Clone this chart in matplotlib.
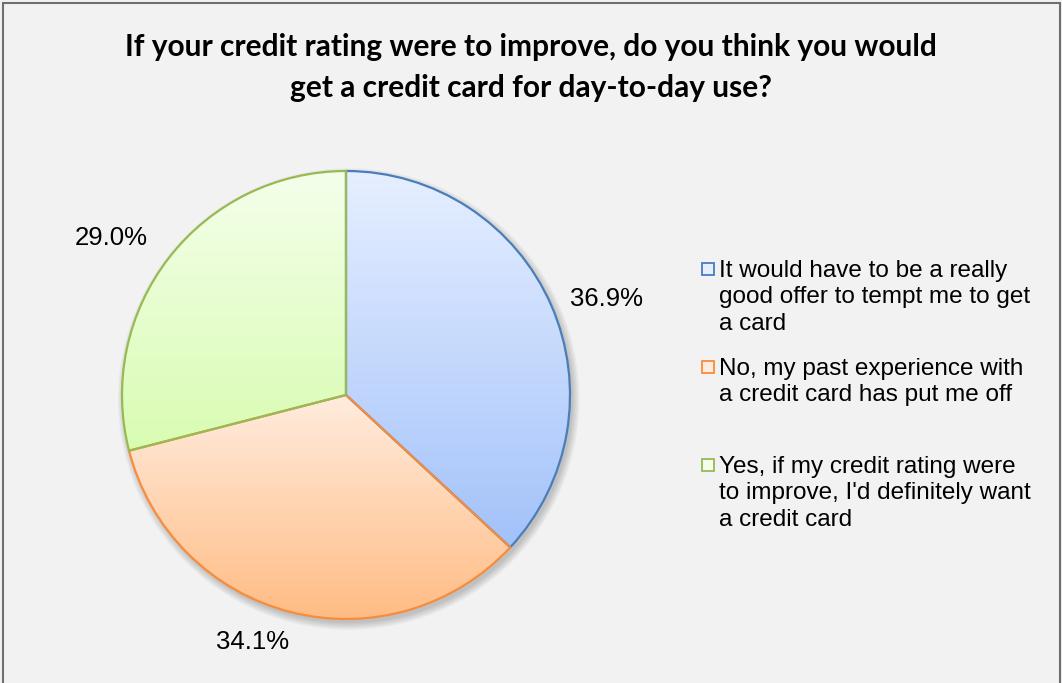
import numpy as np
import matplotlib.pyplot as plt
from matplotlib.colors import LinearSegmentedColormap
from matplotlib.patches import Rectangle, Circle
import matplotlib.transforms as mtransforms

# survey answers, share of respondents (%)
answers = [
    "It would have to be a really\ngood offer to tempt me to get\na card",
    "No, my past experience with\na credit card has put me off",
    "Yes, if my credit rating were\nto improve, I'd definitely want\na credit card",
]
shares = [36.9, 34.1, 29.0]

edge_colors = ["#4a7ebb", "#f68c3c", "#98b954"]
grad_top = ["#e6efff", "#ffecde", "#f4ffea"]
grad_bottom = ["#a3c2fa", "#ffbc84", "#d9fcb2"]

W, H = 1062, 683
fig = plt.figure(figsize=(W / 100, H / 100), dpi=100)
fig.patch.set_facecolor("#f2f2f2")

# chart frame
fig.patches.append(Rectangle((3 / W, -0.05), (1059.5 - 3) / W, 1.05 - 3.5 / H,
                             transform=fig.transFigure, facecolor="none",
                             edgecolor="#6f6f6f", linewidth=1.5))

fig.text(0.5, 1 - 47 / H, "If your credit rating were to improve, do you think you would",
         ha="center", va="center", fontsize=21.5, fontweight="bold", family="Lato")
fig.text(0.5, 1 - 88 / H, "get a credit card for day-to-day use?",
         ha="center", va="center", fontsize=21.5, fontweight="bold", family="Lato")

# pie axes: center (346, 395) px, radius 224 px
cx, cy, r = 346, 395, 224
ax = fig.add_axes([(cx - r) / W, (H - cy - r) / H, 2 * r / W, 2 * r / H])
ax.axis("off")

# soft drop shadow
for k in range(6):
    ax.add_patch(Circle((0.012, -0.018), 1.0 + 0.006 * k, facecolor="#000000",
                        edgecolor="none", alpha=0.035, zorder=0, clip_on=False))

wedges, _ = ax.pie(shares, startangle=90, counterclock=False, radius=1.0,
                   wedgeprops=dict(linewidth=1.6))
ax.set_xlim(-1, 1)
ax.set_ylim(-1, 1)

grad = np.linspace(0, 1, 256).reshape(-1, 1)
for i, w in enumerate(wedges):
    w.set_facecolor("none")
    w.set_edgecolor(edge_colors[i])
    w.set_zorder(3)
    w.set_clip_on(False)
    ext = w.get_path().get_extents(w.get_patch_transform())
    cmap = LinearSegmentedColormap.from_list("g%d" % i, [grad_bottom[i], grad_top[i]])
    img = ax.imshow(grad, cmap=cmap, origin="lower", aspect="auto",
                    extent=[ext.x0, ext.x1, ext.y0, ext.y1], zorder=2)
    img.set_clip_path(w)
ax.set_xlim(-1, 1)
ax.set_ylim(-1, 1)

# percentage labels just outside each slice
label_shift = [(-6, -4), (-32, 8), (0, 3)]
for i, (w, v) in enumerate(zip(wedges, shares)):
    mid = np.deg2rad((w.theta1 + w.theta2) / 2)
    x, y = 1.12 * np.cos(mid), 1.12 * np.sin(mid)
    if abs(np.cos(mid)) < 0.4:
        ha, va = "center", ("top" if y < 0 else "bottom")
    else:
        ha, va = ("left" if x > 0 else "right"), "center"
    tr = ax.transData + mtransforms.Affine2D().translate(*label_shift[i])
    ax.text(x, y, f"{v:.1f}%", ha=ha, va=va, fontsize=18.5,
            family="Liberation Sans", transform=tr, clip_on=False)

# legend
leg_y = [269, 367, 465]
for i, txt in enumerate(answers):
    sq = Rectangle((702 / W, 1 - (leg_y[i] + 6) / H), 12 / W, 12 / H,
                   transform=fig.transFigure, facecolor=grad_top[i],
                   edgecolor=edge_colors[i], linewidth=1.3)
    fig.patches.append(sq)
    fig.text(719 / W, 1 - (leg_y[i] - 9) / H, txt, ha="left", va="top",
             fontsize=17.5, family="Liberation Sans", linespacing=1.26)

fig.savefig("out.png", dpi=100, facecolor=fig.get_facecolor())
